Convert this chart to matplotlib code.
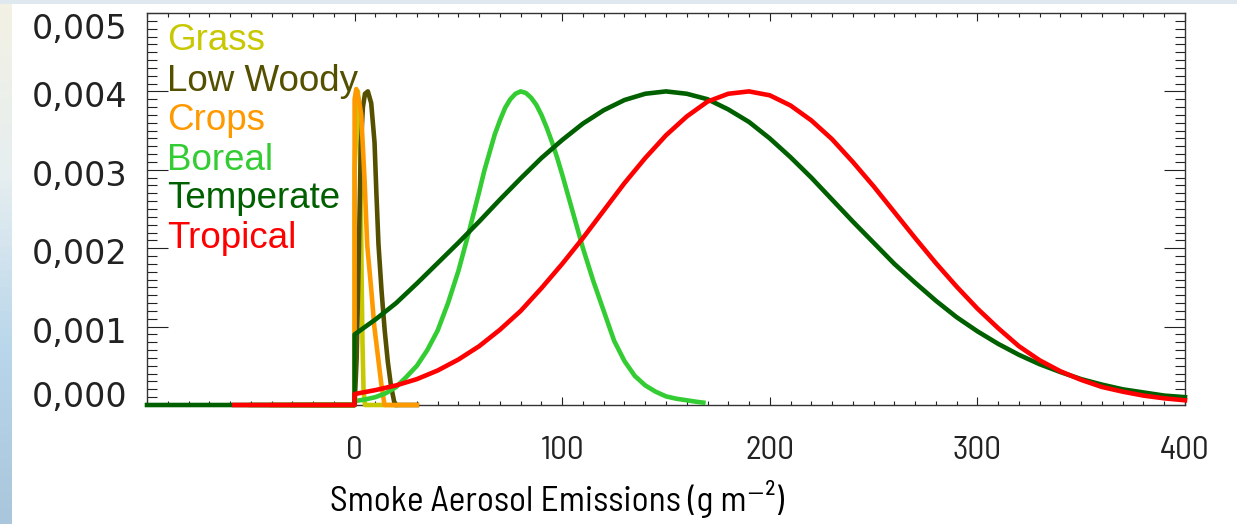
import matplotlib

matplotlib.use("Agg")

import matplotlib.pyplot as plt
import numpy as np
from matplotlib.colors import LinearSegmentedColormap
from matplotlib.ticker import FixedLocator, FuncFormatter, MultipleLocator
from matplotlib.transforms import ScaledTranslation

# values, y in units of 1e-3
series_names = ["Grass", "Low Woody", "Crops", "Boreal", "Temperate", "Tropical"]
series_colors = ["#c8c800", "#545000", "#ff9900", "#33cc33", "#006000", "#ff0000"]

grass_x = [-20, 0, 0, 1.0, 1.6, 2.4, 3.0, 3.4, 3.8, 4.3, 5.0, 20]
grass_y = [0, 0, 3.0, 3.9, 4.0, 3.6, 2.6, 1.6, 0.8, 0.2, 0, 0]

low_woody_x = [-30, 0, 1, 2, 2.5, 3, 4, 5, 6.4, 8, 9.6, 10.5, 11.5, 13, 14.5, 16, 17.5, 19, 19.5, 30]
low_woody_y = [0, 0, 0.6, 1.9, 2.6, 3.3, 3.8, 3.97, 4.0, 3.85, 3.35, 2.7, 2.05, 1.45, 0.95, 0.55, 0.25, 0.05, 0, 0]

crops_x = [-40, 0, 0, 0.8, 2.0, 3.2, 4.8, 6.1, 8.0, 9.5, 11.2, 12.8, 14.4, 30]
crops_y = [0, 0, 3.9, 4.03, 3.9, 3.7, 2.87, 2.03, 1.48, 1.0, 0.63, 0.28, 0, 0]

boreal_x = [-50, 0, 0, 5, 10, 15, 20, 25, 30, 35, 40, 45, 50, 55, 60, 62.5, 65, 67.5, 70,
            72.5, 75, 77.5, 80, 82.5, 85, 87.5, 90, 92.5, 95, 97.5, 100, 105, 110, 115,
            120, 125, 130, 135, 140, 145, 150, 155, 160, 165, 168]
boreal_y = [0, 0, 0.05, 0.07, 0.10, 0.15, 0.23, 0.36, 0.50, 0.70, 0.95, 1.30, 1.71, 2.20,
            2.72, 2.99, 3.22, 3.45, 3.63, 3.79, 3.90, 3.97, 4.00, 3.98, 3.92, 3.83, 3.70,
            3.54, 3.36, 3.16, 2.94, 2.47, 2.00, 1.58, 1.20, 0.82, 0.56, 0.37, 0.25, 0.17,
            0.11, 0.08, 0.06, 0.04, 0.03]

temperate_x = [-100, 0] + list(range(0, 401, 10))
temperate_y = [0, 0, 0.90, 1.09, 1.30, 1.55, 1.81, 2.07, 2.34, 2.62, 2.89, 3.15, 3.38,
               3.59, 3.76, 3.89, 3.97, 4.00, 3.97, 3.90, 3.77, 3.61, 3.40, 3.16, 2.90,
               2.62, 2.34, 2.07, 1.80, 1.56, 1.33, 1.12, 0.94, 0.78, 0.64, 0.52, 0.42,
               0.33, 0.26, 0.20, 0.16, 0.12, 0.10]

tropical_x = [-58, 0] + list(range(0, 401, 10))
tropical_y = [0, 0, 0.14, 0.19, 0.25, 0.33, 0.44, 0.58, 0.75, 0.96, 1.20, 1.49, 1.80,
              2.13, 2.48, 2.83, 3.15, 3.44, 3.68, 3.87, 3.97, 4.00, 3.95, 3.82, 3.63,
              3.39, 3.10, 2.79, 2.46, 2.13, 1.81, 1.51, 1.23, 0.98, 0.75, 0.57, 0.43,
              0.32, 0.23, 0.17, 0.12, 0.085, 0.06]

series_x = [grass_x, low_woody_x, crops_x, boreal_x, temperate_x, tropical_x]
series_y = [grass_y, low_woody_y, crops_y, boreal_y, temperate_y, tropical_y]

x_ticks = [0, 100, 200, 300, 400]
y_ticks = [0.000, 0.001, 0.002, 0.003, 0.004, 0.005]

NARROW = ["Barlow Semi Condensed", "DejaVu Sans"]


def draw_backdrop(fig):
    # light screenshot border on the left and top
    strip = fig.add_axes([0, 0, 11 / 1237, 1])
    strip.axis("off")
    cmap = LinearSegmentedColormap.from_list("edge", ["#f3f1e4", "#e6eef0", "#b9d6ea", "#a9c6dc"])
    strip.imshow(np.linspace(0, 1, 64).reshape(-1, 1), aspect="auto", cmap=cmap,
                 extent=[0, 1, 0, 1])
    top = fig.add_axes([0, 1 - 4 / 524, 1, 4 / 524])
    top.set_facecolor("#dfe8ef")
    top.set_xticks([])
    top.set_yticks([])
    for spine in top.spines.values():
        spine.set_visible(False)


def main():
    fig = plt.figure(figsize=(12.37, 5.24), dpi=100)
    draw_backdrop(fig)

    ax = fig.add_axes([147 / 1237, 119 / 524, 1038 / 1237, 392 / 524])

    for xs, ys, color in zip(series_x, series_y, series_colors):
        ax.plot(xs, np.array(ys) / 1000, color=color, lw=3.3, clip_on=False,
                solid_joinstyle="round", zorder=3)

    ax.set_xlim(-100, 400)
    ax.set_ylim(0, 0.005)

    ax.xaxis.set_major_locator(FixedLocator(x_ticks))
    ax.xaxis.set_minor_locator(MultipleLocator(10))
    ax.yaxis.set_major_locator(FixedLocator(y_ticks))
    ax.yaxis.set_minor_locator(MultipleLocator(0.0001))
    ax.yaxis.set_major_formatter(FuncFormatter(lambda v, p: f"{v:.3f}".replace(".", ",")))

    ax.tick_params(axis="both", which="both", direction="in", colors="#222222",
                   width=0.8, top=True, right=True)
    ax.tick_params(axis="x", which="major", length=6, pad=22, labelsize=24)
    ax.tick_params(axis="x", which="minor", length=3)
    ax.tick_params(axis="y", which="major", length=15, pad=14, labelsize=24,
                   labelfontfamily="DejaVu Sans")
    ax.tick_params(axis="y", which="minor", length=7)
    for lbl in ax.get_xticklabels():
        lbl.set_fontfamily(NARROW)
    for spine in ax.spines.values():
        spine.set_color("#333333")
        spine.set_linewidth(1.0)

    # end labels sit inside the axis range, as in the original IDL plot
    shifts_px = [11, -3, -3, -3, -3, -13]
    for tick, dy in zip(ax.yaxis.get_major_ticks(), shifts_px):
        lbl = tick.label1
        lbl.set_transform(lbl.get_transform() + ScaledTranslation(0, dy / 100, fig.dpi_scale_trans))

    label_rows = [0.906, 0.801, 0.7015, 0.599, 0.503, 0.401]
    for name, color, row in zip(series_names, series_colors, label_rows):
        ax.text(0.019, row, name, color=color, transform=ax.transAxes, fontsize=26.5,
                family="Liberation Sans", va="baseline", ha="left", zorder=5)

    fig.text(557 / 1237, 12.5 / 524, "Smoke Aerosol Emissions (g m\u207b\u00b2)",
             family=NARROW, fontsize=25.5, ha="center", va="baseline")

    fig.savefig("out.png", dpi=100)
    plt.close(fig)


if __name__ == "__main__":
    main()
